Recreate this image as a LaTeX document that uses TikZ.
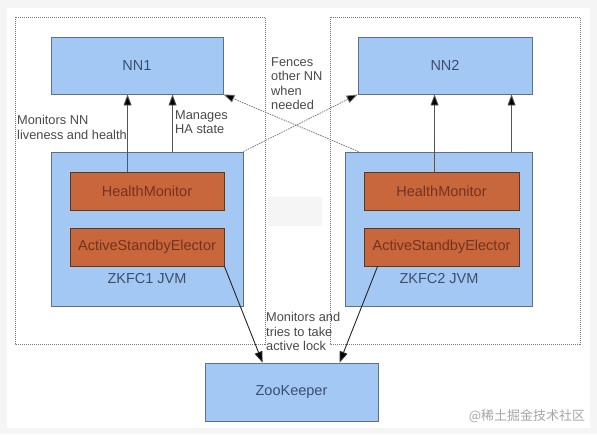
\documentclass[tikz,border=0pt]{standalone}
\usepackage{fontspec}
\setmainfont{Liberation Sans}
\newfontfamily\cjkfont{Noto Sans CJK SC}
\usetikzlibrary{arrows.meta,calc}
\definecolor{bluefill}{HTML}{A4C8F4}
\definecolor{blueline}{HTML}{5E6F8C}
\definecolor{bluetext}{HTML}{3B4E6E}
\definecolor{orfill}{HTML}{C8673C}
\definecolor{orline}{HTML}{5A3828}
\definecolor{ortext}{HTML}{74321F}
\definecolor{labeltext}{HTML}{4A4A4A}
\definecolor{dashcol}{HTML}{7A7A7A}
\definecolor{arrline}{HTML}{555555}
\begin{document}
\begin{tikzpicture}[x=1pt,y=-1pt,
  bluebox/.style={draw=blueline,line width=0.9pt,fill=bluefill,text=bluetext,
    font=\fontsize{14.5}{16}\selectfont,inner sep=0pt},
  orbox/.style={draw=orline,line width=0.9pt,fill=orfill,text=ortext,
    font=\fontsize{14.5}{16}\selectfont,inner sep=0pt,
    minimum width=154pt,minimum height=38pt},
  lbl/.style={anchor=north west,inner sep=0pt,align=left,text=labeltext,
    font=\fontsize{12.8}{14.6}\selectfont},
  grpbox/.style={draw=dashcol,line width=0.8pt,dash pattern=on 1pt off 1pt},
  arr/.style={draw=arrline,line width=0.9pt,-{Triangle[length=11pt,width=8pt,fill=black]}},
  darr/.style={draw=dashcol,line width=0.8pt,dash pattern=on 1.5pt off 1pt,
    -{Triangle[length=11pt,width=8pt,fill=black]}}
]
\useasboundingbox (0,0) rectangle (597,434);
\fill[black!4] (0,0) rectangle (597,434);
\fill[white] (7,8) rectangle (590,428);
\fill[black!4] (268,197) rectangle (322,226);

% group boxes
\draw[grpbox] (15,17) rectangle (265,344);
\draw[grpbox] (330,17) rectangle (580,344);

% NameNodes
\node[bluebox,minimum width=172pt,minimum height=57pt] (NN1) at (137,65.5) {NN1};
\node[bluebox,minimum width=174pt,minimum height=57pt] (NN2) at (445,65.5) {NN2};

% ZKFC JVMs
\node[bluebox,minimum width=192pt,minimum height=154pt] (Z1) at (147,229) {};
\node[bluebox,minimum width=187pt,minimum height=154pt] (Z2) at (438.5,229) {};
\node[text=bluetext,font=\fontsize{14.5}{16}\selectfont,inner sep=0pt] (Z1lbl) at (147,279) {ZKFC1 JVM};
\node[text=bluetext,font=\fontsize{14.5}{16}\selectfont,inner sep=0pt] (Z2lbl) at (439,279) {ZKFC2 JVM};

\node[orbox] (HM1) at (147,191) {HealthMonitor};
\node[orbox] (ASE1) at (147,247) {ActiveStandbyElector};
\node[orbox,minimum width=155pt] (HM2) at (441.5,191) {HealthMonitor};
\node[orbox,minimum width=155pt] (ASE2) at (441.5,247) {ActiveStandbyElector};

% ZooKeeper
\node[bluebox,minimum width=173pt,minimum height=58pt] (ZK) at (291.5,392) {ZooKeeper};

% solid arrows to NameNodes
\draw[arr] ([xshift=58pt]HM1.north west) -- ([xshift=58pt]HM1.north west |- NN1.south);
\draw[arr] ([xshift=122pt]Z1.north west) -- ([xshift=122pt]Z1.north west |- NN1.south);
\draw[arr] ([xshift=71pt]HM2.north west) -- ([xshift=71pt]HM2.north west |- NN2.south);
\draw[arr] ([xshift=167pt]Z2.north west) -- ([xshift=167pt]Z2.north west |- NN2.south);

% fencing arrows
\draw[darr] (Z1.north east) -- (NN2.south west);
\draw[darr] ([xshift=14pt]Z2.north west) -- (NN1.south east);

% arrows to ZooKeeper
\draw[arr,draw=black!85] (ASE1.south east) -- ([xshift=58pt]ZK.north west);
\draw[arr,draw=black!85] ([xshift=14pt]ASE2.south west) -- ([xshift=135pt]ZK.north west);

% labels
\node[lbl] (l1) at (17,115) {Monitors NN\\liveness and health};
\node[lbl] (l2) at (175,110) {Manages\\HA state};
\node[lbl] (l3) at (271,57) {Fences\\other NN\\when\\needed};
\node[lbl] (l4) at (266,312) {Monitors and\\tries to take\\active lock};

% watermark
\node[text=black!35,font=\cjkfont\fontsize{13}{15}\selectfont,inner sep=0pt] (wm) at (527,416) {@稀土掘金技术社区};
\end{tikzpicture}
\end{document}
